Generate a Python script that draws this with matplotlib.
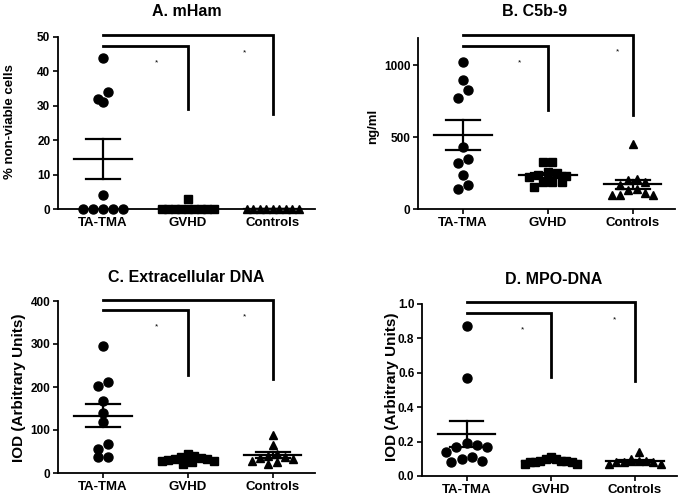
import numpy as np
import matplotlib
matplotlib.use("Agg")
import matplotlib.pyplot as plt

plt.rcParams['font.family'] = ['Liberation Sans', 'DejaVu Sans']

groups = ["TA-TMA", "GVHD", "Controls"]

# Panel A: mHam (% non-viable cells)
tma_A = [44, 34, 32, 31, 4, 0, 0, 0, 0, 0]
gvhd_A = [3, 0, 0, 0, 0, 0, 0, 0, 0, 0]
ctrl_A = [0, 0, 0, 0, 0, 0, 0, 0, 0]

# Panel B: C5b-9 (ng/ml)
tma_B = [1020, 900, 830, 770, 430, 345, 320, 240, 170, 140]
gvhd_B = [330, 325, 260, 250, 235, 230, 225, 190, 190, 185, 150]
ctrl_B = [450, 210, 200, 190, 170, 140, 130, 110, 100, 100, 95]

# Panel C: Extracellular DNA (IOD)
tma_C = [295, 212, 203, 168, 140, 118, 68, 56, 38, 38]
gvhd_C = [45, 40, 38, 35, 33, 32, 30, 28, 27, 25, 22]
ctrl_C = [88, 66, 45, 40, 38, 35, 32, 28, 25, 20]

# Panel D: MPO-DNA (IOD)
tma_D = [0.87, 0.57, 0.19, 0.18, 0.17, 0.17, 0.14, 0.11, 0.10, 0.09, 0.08]
gvhd_D = [0.11, 0.10, 0.10, 0.09, 0.09, 0.09, 0.08, 0.08, 0.08, 0.07, 0.07]
ctrl_D = [0.14, 0.10, 0.09, 0.09, 0.09, 0.08, 0.08, 0.08, 0.07, 0.07]

panels = [
    dict(title="A. mHam", ylabel="% non-viable cells", data=[tma_A, gvhd_A, ctrl_A],
         ylim=(0, 50), yticks=[0, 10, 20, 30, 40, 50], yfmt="{:.0f}",
         rect=[58, 37, 257, 172], title_xy=(187, 11), ylabel_xy=(10, 122), ylfs=9.5,
         br_top=(50.6, 27.5), br_low=(47.4, 29.0), stars=[(0.63, 42.5), (1.67, 45.5)]),
    dict(title="B. C5b-9", ylabel="ng/ml", data=[tma_B, gvhd_B, ctrl_B],
         ylim=(0, 1190), yticks=[0, 500, 1000], yfmt="{:.0f}",
         rect=[418, 38, 257, 171], title_xy=(535, 12), ylabel_xy=(373, 126), ylfs=9.5,
         br_top=(1213, 652), br_low=(1132, 687), stars=[(0.67, 1020), (1.82, 1090)]),
    dict(title="C. Extracellular DNA", ylabel="IOD (Arbitrary Units)", data=[tma_C, gvhd_C, ctrl_C],
         ylim=(0, 400), yticks=[0, 100, 200, 300, 400], yfmt="{:.0f}",
         rect=[58, 301, 257, 172], title_xy=(186, 277), ylabel_xy=(19, 388), ylfs=11,
         br_top=(403, 219), br_low=(380, 229), stars=[(0.63, 340), (1.67, 362)]),
    dict(title="D. MPO-DNA", ylabel="IOD (Arbitrary Units)", data=[tma_D, gvhd_D, ctrl_D],
         ylim=(0, 1.0), yticks=[0.0, 0.2, 0.4, 0.6, 0.8, 1.0], yfmt="{:.1f}",
         rect=[422, 304, 255, 172], title_xy=(554, 279), ylabel_xy=(392, 387), ylfs=11,
         br_top=(1.01, 0.55), br_low=(0.95, 0.575), stars=[(0.66, 0.85), (1.76, 0.91)]),
]

W, H = 685, 497
fig = plt.figure(figsize=(W / 100, H / 100), dpi=100)

markers = ['o', 's', '^']
msizes = [6.5, 6.0, 5.3]


def row_swarm(ax, xc, vals, diam_px, max_width_px):
    """GraphPad-like scatter: values within one marker height share a row;
    each row is centred on the column, largest values placed centre-out."""
    vals = np.asarray(vals, dtype=float)
    order = np.argsort(vals, kind='stable')[::-1]
    ypx = ax.transData.transform(np.column_stack([np.full(len(vals), xc), vals]))[:, 1]
    rows, cur = [], [order[0]]
    for i in order[1:]:
        if abs(ypx[cur[0]] - ypx[i]) < diam_px:
            cur.append(i)
        else:
            rows.append(cur)
            cur = [i]
    rows.append(cur)
    offs = np.zeros(len(vals))
    for r in rows:
        n = len(r)
        step = diam_px * 1.12 if n < 2 else min(diam_px * 1.12, max_width_px / (n - 1))
        slots = [(k - (n - 1) / 2) * step for k in range(n)]
        slots.sort(key=lambda s: (abs(s), -s))
        for i, s in zip(r, slots):
            offs[i] = s
    x0 = ax.transData.transform((xc, 0))[0]
    inv = ax.transData.inverted()
    return np.array([inv.transform((x0 + o, 0))[0] for o in offs])


for p in panels:
    l, t, w, h = p["rect"]
    ax = fig.add_axes([l / W, (H - t - h) / H, w / W, h / H])
    ax.set_xlim(-0.53, 2.5)
    ax.set_ylim(*p["ylim"])
    for s in ["top", "right"]:
        ax.spines[s].set_visible(False)
    for s in ["left", "bottom"]:
        ax.spines[s].set_linewidth(1.3)
    ax.set_xticks(range(3))
    ax.set_xticklabels(groups, fontsize=9.5, fontweight='bold')
    ax.set_yticks(p["yticks"])
    ax.set_yticklabels([p["yfmt"].format(v) for v in p["yticks"]], fontsize=8.5, fontweight='bold')
    ax.tick_params(axis='both', length=3.5, width=1.2, pad=2)
    ax.patch.set_visible(False)

    for gi, vals in enumerate(p["data"]):
        vals = np.asarray(vals, dtype=float)
        ms_px = msizes[gi] * 100 / 72
        xs = row_swarm(ax, gi, vals, ms_px, 52)
        ax.plot(xs, vals, linestyle='none', marker=markers[gi], ms=msizes[gi],
                color='black', clip_on=False, zorder=3)
        m = vals.mean()
        sem = vals.std(ddof=1) / np.sqrt(len(vals))
        ax.plot([gi - 0.34, gi + 0.34], [m, m], color='black', lw=1.6, zorder=4)
        ax.plot([gi - 0.2, gi + 0.2], [m + sem, m + sem], color='black', lw=1.6, zorder=4)
        ax.plot([gi - 0.2, gi + 0.2], [m - sem, m - sem], color='black', lw=1.6, zorder=4)
        ax.plot([gi, gi], [m - sem, m + sem], color='black', lw=1.6, zorder=4)

    # significance brackets
    yt, yte = p["br_top"]
    ax.plot([0, 2, 2], [yt, yt, yte], color='black', lw=2.0, clip_on=False,
            solid_joinstyle='miter', zorder=5)
    yl, yle = p["br_low"]
    ax.plot([0, 1, 1], [yl, yl, yle], color='black', lw=2.0, clip_on=False,
            solid_joinstyle='miter', zorder=5)
    for sx, sy in p["stars"]:
        ax.text(sx, sy, "*", fontsize=6, ha='center', va='center')

    tx, ty = p["title_xy"]
    fig.text(tx / W, 1 - ty / H, p["title"], fontsize=11.5, fontweight='bold',
             ha='center', va='center')
    lx, ly = p["ylabel_xy"]
    fig.text(lx / W, 1 - ly / H, p["ylabel"], fontsize=p["ylfs"], fontweight='bold',
             rotation=90, ha='center', va='center')

fig.savefig("out.png", dpi=100)
